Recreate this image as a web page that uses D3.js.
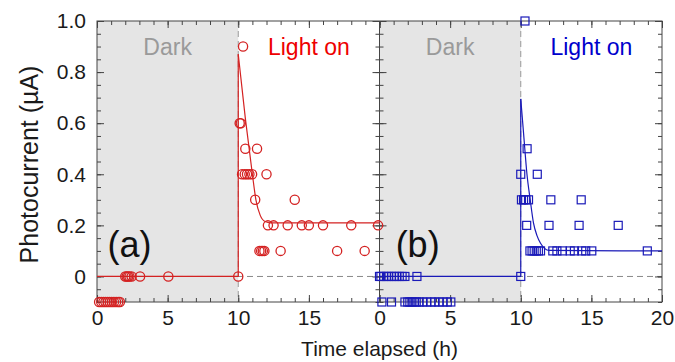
<!DOCTYPE html>
<html><head><meta charset="utf-8">
<script src="https://cdn.jsdelivr.net/npm/d3@7"></script>
<style>
html,body{margin:0;padding:0;background:#fff;}
svg text{font-family:"Liberation Sans",Arial,Helvetica,sans-serif;}
</style></head>
<body>
<svg id="chart" width="675" height="362"></svg>
<script>
// ---- data (time in h, photocurrent in µA) ----
const redTime = [0.15,0.3,0.45,0.6,0.75,0.9,1.05,1.2,1.35,1.5,1.62,
  2.0,2.1,2.2,2.3,2.45,3.05,5.05,10.0,
  10.34,10.1,10.18,10.5,11.33,10.27,10.46,10.62,10.79,10.98,12.0,11.2,14.0,
  12.1,12.5,13.5,14.5,15.0,16.0,18.0,19.9,11.5,11.62,11.74,11.85,13.0,17.0,18.95];
const redCurrent = [-0.1,-0.1,-0.1,-0.1,-0.1,-0.1,-0.1,-0.1,-0.1,-0.1,-0.1,
  0,0,0,0,0,0,0,0,
  0.9,0.6,0.6,0.5,0.5,0.4,0.4,0.4,0.4,0.4,0.4,0.3,0.3,
  0.2,0.2,0.2,0.2,0.2,0.2,0.2,0.2,0.1,0.1,0.1,0.1,0.1,0.1,0.1];
const blueTime = [0.17,0.85,1.8,2.0,2.15,2.3,2.45,2.6,2.8,3.05,3.35,3.65,3.9,4.2,4.5,4.8,5.05,
  0,0.1,0.3,0.5,0.65,0.85,1.05,1.2,1.4,1.6,1.8,2.65,10.0,
  10.3,10.45,10.0,11.17,10.05,10.2,10.35,10.55,12.13,14.28,10.42,12.0,14.13,16.9,
  10.65,10.8,10.95,11.1,11.25,11.4,12.27,12.56,12.95,13.5,13.8,14.32,14.6,15.03,18.96];
const blueCurrent = [-0.1,-0.1,-0.1,-0.1,-0.1,-0.1,-0.1,-0.1,-0.1,-0.1,-0.1,-0.1,-0.1,-0.1,-0.1,-0.1,-0.1,
  0,0,0,0,0,0,0,0,0,0,0,0,0,
  1.0,0.5,0.4,0.4,0.3,0.3,0.3,0.3,0.3,0.3,0.2,0.2,0.2,0.2,
  0.1,0.1,0.1,0.1,0.1,0.1,0.1,0.1,0.1,0.1,0.1,0.1,0.1,0.1,0.1];
// fitted curves
const redStepTime = [0,10,10];
const redStepCurrent = [0,0,0.87];
const redFitTime = [10,10.5,11.0,11.25,11.55,11.9,12.3,20];
const redFitCurrent = [0.87,0.62,0.40,0.30,0.24,0.215,0.21,0.21];
const blueStepTime = [0,10,10];
const blueStepCurrent = [0,0,0.695];
const blueFitTime = [10,10.2,10.44,10.67,10.9,11.15,11.4,12.0,20];
const blueFitCurrent = [0.695,0.56,0.40,0.30,0.21,0.16,0.13,0.102,0.1];
// ticks
const xTicksLeft = [0,5,10,15];
const xTicksRight = [0,5,10,15,20];
const yTicks = [0,0.2,0.4,0.6,0.8,1.0];
const darkEnd = 10;

// ---- layout ----
const svg = d3.select("#chart");
const L = 97, M = 379.5, R = 662, T = 21, B = 302;
const xL = d3.scaleLinear().domain([0,20]).range([L,M]);
const xR = d3.scaleLinear().domain([0,20]).range([M,R]);
const y = d3.scaleLinear().domain([-0.1,1.0]).range([B,T]);
const red = "#d42222", blue = "#1a1ab8";
const frameCol = "#444";

// shaded dark regions
[xL,xR].forEach(x=>{
  svg.append("rect").attr("x",x(0)).attr("y",T).attr("width",x(darkEnd)-x(0)).attr("height",B-T).attr("fill","#e5e5e5");
});
// dashed guide lines
svg.append("line").attr("x1",L).attr("x2",R).attr("y1",y(0)).attr("y2",y(0))
  .attr("stroke","#888").attr("stroke-width",1).attr("stroke-dasharray","6,4");
[xL,xR].forEach(x=>{
  svg.append("line").attr("x1",x(darkEnd)).attr("x2",x(darkEnd)).attr("y1",T).attr("y2",B)
    .attr("stroke","#999").attr("stroke-width",1).attr("stroke-dasharray","6,4");
});

// axes with inward ticks
function ticks(g, axisFn, scale, minorVals, majorVals){
  g.call(axisFn(scale).tickValues(minorVals).tickSize(-4).tickFormat(""));
  g.call(ax=>ax.select(".domain").remove());
  const g2 = g.append("g");
  g2.call(axisFn(scale).tickValues(majorVals).tickSize(-7).tickFormat(""));
  g2.select(".domain").remove();
  g.selectAll("line").attr("stroke",frameCol);
}
const xMinor = d3.range(0,21,1), xMajor = [0,5,10,15,20];
const yMinor = d3.range(-0.1,1.0001,0.05).map(v=>+v.toFixed(2)), yMajor = yTicks;
[[xL,L,M],[xR,M,R]].forEach(([x,a,b])=>{
  ticks(svg.append("g").attr("transform",`translate(0,${B})`), d3.axisBottom, x, xMinor, xMajor);
  ticks(svg.append("g").attr("transform",`translate(0,${T})`), d3.axisTop, x, xMinor, xMajor);
  ticks(svg.append("g").attr("transform",`translate(${a},0)`), d3.axisLeft, y, yMinor, yMajor);
  ticks(svg.append("g").attr("transform",`translate(${b},0)`), d3.axisRight, y, yMinor, yMajor);
});
// frames
svg.append("rect").attr("x",L).attr("y",T).attr("width",R-L).attr("height",B-T)
  .attr("fill","none").attr("stroke",frameCol).attr("stroke-width",1);
svg.append("line").attr("x1",M).attr("x2",M).attr("y1",T).attr("y2",B).attr("stroke",frameCol);

// tick labels
const fs = 21;
const labL = svg.append("g").attr("transform",`translate(0,${B})`)
  .call(d3.axisBottom(xL).tickValues(xTicksLeft).tickSize(0).tickPadding(8).tickFormat(d3.format("d")));
const labR = svg.append("g").attr("transform",`translate(0,${B})`)
  .call(d3.axisBottom(xR).tickValues(xTicksRight).tickSize(0).tickPadding(8).tickFormat(d3.format("d")));
const labY = svg.append("g").attr("transform",`translate(${L},0)`)
  .call(d3.axisLeft(y).tickValues(yTicks).tickSize(0).tickPadding(11).tickFormat(d=>d===0?"0":d3.format(".1f")(d)));
[labL,labR,labY].forEach(g=>{
  g.select(".domain").remove();
  g.selectAll("text").attr("font-size",fs).attr("fill","#1a1a1a").attr("font-family",'"Liberation Sans",Arial,sans-serif');
});

// axis titles
svg.append("text").attr("x",(L+R)/2).attr("y",356).attr("text-anchor","middle")
  .attr("font-size",fs).attr("fill","#1a1a1a").text("Time elapsed (h)");
svg.append("text").attr("transform",`translate(38,${(T+B)/2+3}) rotate(-90)`).attr("text-anchor","middle")
  .attr("font-size",25).attr("fill","#1a1a1a").text("Photocurrent (\u00b5A)");

// fit lines
const line = (xs)=>d3.line().x(d=>xs(d[0])).y(d=>y(d[1]));
function drawFit(xs, st, sc, ft, fc, col){
  svg.append("path").attr("d", line(xs)(st.map((t,i)=>[t,sc[i]])))
    .attr("fill","none").attr("stroke",col).attr("stroke-width",1.2);
  svg.append("path").attr("d", line(xs).curve(d3.curveMonotoneX)(ft.map((t,i)=>[t,fc[i]])))
    .attr("fill","none").attr("stroke",col).attr("stroke-width",1.2);
}
drawFit(xL, redStepTime, redStepCurrent, redFitTime, redFitCurrent, red);
drawFit(xR, blueStepTime, blueStepCurrent, blueFitTime, blueFitCurrent, blue);

// markers
svg.append("g").selectAll("circle").data(redTime.map((t,i)=>[t,redCurrent[i]])).join("circle")
  .attr("cx",d=>xL(d[0])).attr("cy",d=>y(d[1])).attr("r",4.6)
  .attr("fill","none").attr("stroke",red).attr("stroke-width",1.3);
const sq = 8;
svg.append("g").selectAll("rect").data(blueTime.map((t,i)=>[t,blueCurrent[i]])).join("rect")
  .attr("x",d=>xR(d[0])-sq/2).attr("y",d=>y(d[1])-sq/2).attr("width",sq).attr("height",sq)
  .attr("fill","none").attr("stroke",blue).attr("stroke-width",1.2);

// annotations
const ann = [
  {t:"Dark", x:xL(5), col:"#9a9a9a"},
  {t:"Light on", x:xL(15), col:"#ee0000"},
  {t:"Dark", x:xR(5), col:"#9a9a9a"},
  {t:"Light on", x:xR(15), col:"#0000cc"}
];
ann.forEach(a=>svg.append("text").attr("x",a.x).attr("y",55).attr("text-anchor","middle")
  .attr("font-size",23).attr("fill",a.col).text(a.t));
svg.append("text").attr("x",xL(2.3)).attr("y",257).attr("text-anchor","middle").attr("font-size",36).attr("fill","#111").text("(a)");
svg.append("text").attr("x",xR(2.7)).attr("y",257).attr("text-anchor","middle").attr("font-size",36).attr("fill","#111").text("(b)");
</script>
</body></html>
